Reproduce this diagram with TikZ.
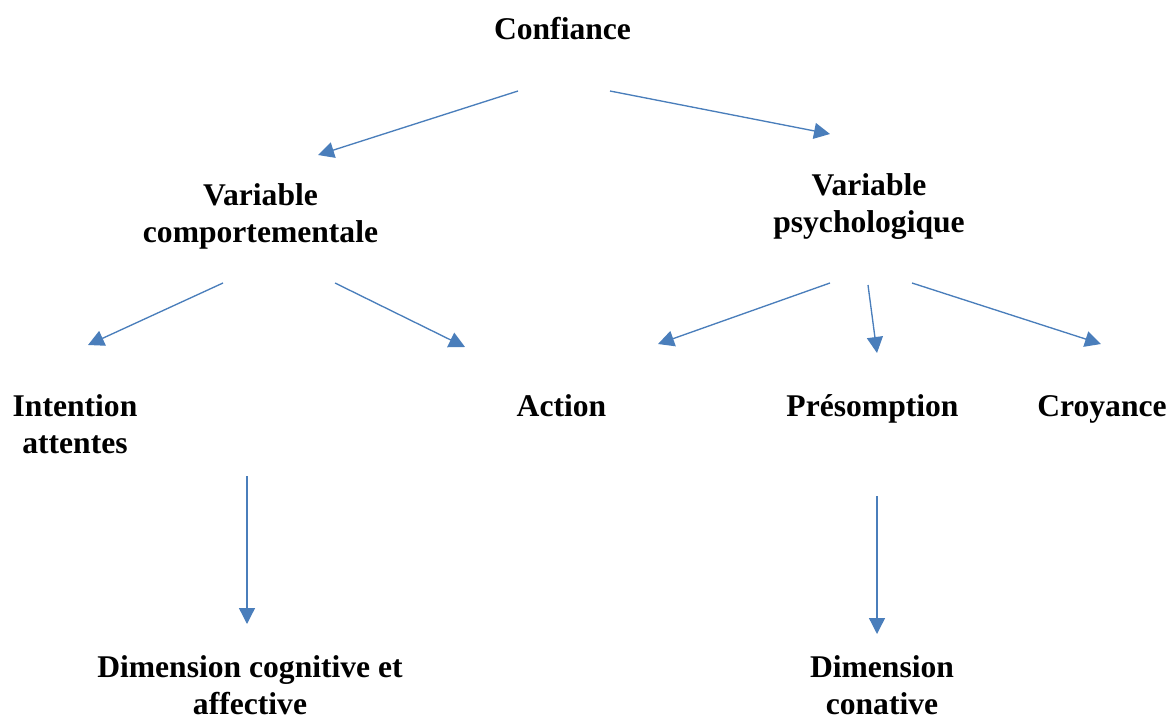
\documentclass[tikz,border=0pt]{standalone}
\usepackage{fontspec}
\setmainfont{Liberation Serif}
\usetikzlibrary{arrows.meta}
\definecolor{arrowblue}{HTML}{4A7EBB}
\begin{document}
\begin{tikzpicture}[x=0.75pt,y=-0.75pt,
  lbl/.style={anchor=base,align=center,inner sep=0pt,font=\fontsize{23.7pt}{27.75pt}\selectfont\bfseries},
  conn/.style={draw=arrowblue,line width=1pt,-{Triangle[length=12pt,width=12pt]},fill=arrowblue}]
\useasboundingbox (0,0) rectangle (1170,720);
% labels (base anchor = baseline of the last line)
\node[lbl] (conf) at (562.5,40) {Confiance};
\node[lbl] (vcomp) at (260.5,243) {Variable\\comportementale};
\node[lbl] (vpsy) at (869,233) {Variable\\psychologique};
\node[lbl] (inten) at (75,453) {Intention\\attentes};
\node[lbl] (action) at (561.5,416) {Action};
\node[lbl] (presom) at (872.5,416) {Présomption};
\node[lbl] (croy) at (1102,416) {Croyance};
\node[lbl] (dimcog) at (250,714) {Dimension cognitive et\\affective};
\node[lbl] (dimcon) at (882,714) {Dimension\\conative};
% free connector ends
\coordinate (a1s) at (518,91);   \coordinate (a1e) at (318,155);
\coordinate (a2s) at (610,91);   \coordinate (a2e) at (830,134);
\coordinate (a3s) at (223,283);  \coordinate (a3e) at (88,345);
\coordinate (a4s) at (335,283);  \coordinate (a4e) at (465,347);
\coordinate (a5s) at (830,283);  \coordinate (a5e) at (658,344);
\coordinate (a6s) at (868,285);  \coordinate (a6e) at (877,353);
\coordinate (a7s) at (912,283);  \coordinate (a7e) at (1101,344);
\coordinate (a8s) at (247,476);  \coordinate (a8e) at (247,624);
\coordinate (a9s) at (877,496);  \coordinate (a9e) at (877,634);
% connectors
\draw[conn] (a1s) -- (a1e);
\draw[conn] (a2s) -- (a2e);
\draw[conn] (a3s) -- (a3e);
\draw[conn] (a4s) -- (a4e);
\draw[conn] (a5s) -- (a5e);
\draw[conn] (a6s) -- (a6e);
\draw[conn] (a7s) -- (a7e);
\draw[conn] (a8s) -- (a8e);
\draw[conn] (a9s) -- (a9e);
\end{tikzpicture}
\end{document}
